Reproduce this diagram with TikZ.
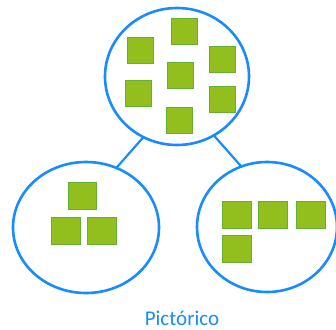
\documentclass[tikz,border=0pt]{standalone}
\usepackage{fontspec}
\setmainfont{Carlito}
\usetikzlibrary{shapes.geometric}
\definecolor{ringblue}{RGB}{24,140,255}
\definecolor{sqfill}{RGB}{146,190,30}
\definecolor{sqedge}{RGB}{98,176,52}
\tikzset{
  ring/.style={ellipse, draw=ringblue, line width=2.6pt, inner sep=0pt, outer sep=0pt},
  block/.style={rectangle, fill=sqfill, draw=sqedge, line width=1pt, minimum width=27pt, minimum height=27pt, inner sep=0pt},
  link/.style={draw=ringblue, line width=2.2pt}
}
\begin{document}
\begin{tikzpicture}[x=1pt,y=-1pt]
\useasboundingbox (0,0) rectangle (336,329);
\node[ring, minimum width=144pt, minimum height=137pt] (top) at (177,76.5) {};
\node[ring, minimum width=146pt, minimum height=131pt] (left) at (86,227.5) {};
\node[ring, minimum width=140pt, minimum height=130pt] (right) at (267,227) {};
\draw[link] (top.241) -- (left.63);
\draw[link] (top.302) -- (right.113);
% top squares
\node[block, minimum width=26pt, minimum height=26pt] (t1) at (184,31.5) {};
\node[block, minimum width=26pt, minimum height=26pt] (t2) at (140.5,50.5) {};
\node[block, minimum width=26pt, minimum height=26pt] (t3) at (222,59.5) {};
\node[block, minimum width=26pt, minimum height=26pt] (t4) at (180.5,75.5) {};
\node[block, minimum width=26pt, minimum height=26pt] (t5) at (138.5,93.5) {};
\node[block, minimum width=26pt, minimum height=26pt] (t6) at (222,99) {};
\node[block, minimum width=26pt, minimum height=26pt] (t7) at (179,120) {};
% left squares
\node[block, minimum width=28pt] (l1) at (82,195.5) {};
\node[block, minimum width=29pt] (l2) at (66,230.5) {};
\node[block, minimum width=29pt] (l3) at (102,230.5) {};
% right squares
\node[block, minimum width=29pt] (r1) at (236.5,214.5) {};
\node[block, minimum width=29pt] (r2) at (272.5,214.5) {};
\node[block, minimum width=29pt] (r3) at (311,214.5) {};
\node[block, minimum width=29pt] (r4) at (236.5,248.5) {};
\node[text=ringblue, font=\fontsize{21}{24}\selectfont, inner sep=0pt, anchor=base] (lbl) at (182,325) {Pictórico};
\end{tikzpicture}
\end{document}
